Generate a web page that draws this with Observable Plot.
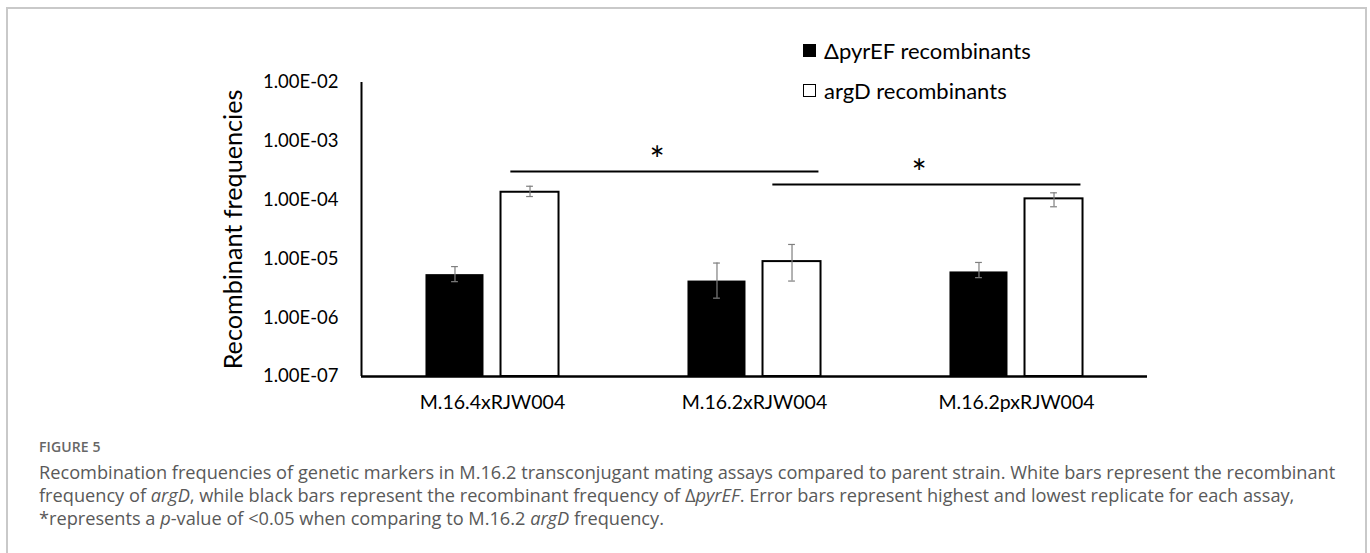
<!DOCTYPE html>
<html>
<head>
<meta charset="utf-8">
<script src="https://cdn.jsdelivr.net/npm/d3@7"></script>
<script src="https://cdn.jsdelivr.net/npm/@observablehq/plot@0.6"></script>
<style>
  html, body { margin: 0; padding: 0; background: #fff; }
  body { width: 1370px; height: 553px; position: relative; overflow: hidden; }
  #frame { position: absolute; left: 6px; top: 7px; width: 1361px; height: 600px; border: 2px solid #c9c9c9; box-sizing: border-box; }
  #chart { position: absolute; left: 0; top: 0; }
  #legend { position: absolute; left: 803px; top: 0; font-family: Lato, "Open Sans", sans-serif; font-size: 22px; color: #000; }
  .leg { position: absolute; white-space: nowrap; display: flex; align-items: center; height: 26px; }
  .sw { display: inline-block; width: 13px; height: 13px; box-sizing: border-box; border: 1.5px solid #000; margin-right: 8px; }
  #caption { position: absolute; left: 39px; top: 435px; font-family: "Open Sans", sans-serif; color: #595959; }
  #figlabel { font-size: 14px; font-weight: 600; color: #666; letter-spacing: 0.1px; line-height: 24px; }
  #captext { font-size: 18.2px; line-height: 23px; white-space: nowrap; font-weight: 400; margin-top: 2px; }
</style>
</head>
<body>
<div id="frame"></div>
<div id="chart"></div>
<div id="legend"></div>
<div id="caption">
  <div id="figlabel">FIGURE 5</div>
  <div id="captext">Recombination frequencies of genetic markers in M.16.2 transconjugant mating assays compared to parent strain. White bars represent the recombinant<br>frequency of <i>argD</i>, while black bars represent the recombinant frequency of Δ<i>pyrEF</i>. Error bars represent highest and lowest replicate for each assay,<br>*represents a <i>p</i>-value of &lt;0.05 when comparing to M.16.2 <i>argD</i> frequency.</div>
</div>
<script>
// ---- data ----
const categories = ["M.16.4xRJW004", "M.16.2xRJW004", "M.16.2pxRJW004"];
const seriesNames = ["ΔpyrEF recombinants", "argD recombinants"];
const pyrEF     = [5.4e-6, 4.2e-6, 6.0e-6];
const pyrEFLow  = [4.1e-6, 2.15e-6, 4.8e-6];
const pyrEFHigh = [7.4e-6, 8.5e-6, 8.7e-6];
const argD      = [1.36e-4, 9.0e-6, 1.05e-4];
const argDLow   = [1.15e-4, 4.2e-6, 7.7e-5];
const argDHigh  = [1.72e-4, 1.76e-5, 1.33e-4];
const yTicks = [1e-2, 1e-3, 1e-4, 1e-5, 1e-6, 1e-7];
const sigFrom = ["M.16.4xRJW004", "M.16.2xRJW004"];
const sigTo   = ["M.16.2xRJW004", "M.16.2pxRJW004"];
const sigLevel = [3.06e-4, 1.84e-4];
const sigLabel = ["*", "*"];

// ---- layout helpers (in category units) ----
const barW = 0.2214, gap = 0.065, capHalf = 0.013;
const seriesOffset = [-(barW + gap) / 2, (barW + gap) / 2];
const fills = ["#000", "#fff"];

const table = [];
categories.forEach((c, i) => {
  [[pyrEF, pyrEFLow, pyrEFHigh], [argD, argDLow, argDHigh]].forEach(([v, lo, hi], s) => {
    const xc = i + seriesOffset[s];
    table.push({category: c, series: seriesNames[s], s, value: v[i], low: lo[i], high: hi[i],
      x1: xc - barW / 2, x2: xc + barW / 2, xc});
  });
});
const sig = sigFrom.map((f, k) => {
  const a = categories.indexOf(f), b = categories.indexOf(sigTo[k]);
  return {x1: a + 0.07, x2: b + 0.246, y: sigLevel[k], label: sigLabel[k], xm: (a + 0.07 + b + 0.246) / 2 - 0.03};
});

const fmt = d => {
  const e = Math.round(Math.log10(d));
  const m = d / Math.pow(10, e);
  return m.toFixed(2) + "E" + (e < 0 ? "-" : "+") + String(Math.abs(e)).padStart(2, "0");
};

const font = "Lato, 'Open Sans', sans-serif";
const plot = Plot.plot({
  width: 1370,
  height: 425,
  marginLeft: 361,
  marginRight: 223,
  marginTop: 82,
  marginBottom: 49,
  style: {fontFamily: font, color: "#000", background: "transparent"},
  x: {type: "linear", domain: [-0.5, categories.length - 0.5], axis: null},
  y: {type: "log", domain: [1e-7, 1e-2], axis: null},
  marks: [
    Plot.axisY({ticks: yTicks, tickFormat: fmt, tickSize: 0, tickPadding: 23, fontSize: 18.5, label: null}),
    Plot.axisX({ticks: d3.range(categories.length), tickFormat: i => categories[i], tickSize: 0, tickPadding: 19, fontSize: 19.5, label: null}),
    Plot.text(["Recombinant frequencies"], {frameAnchor: "left", textAnchor: "middle", rotate: -90, dx: -128, fontSize: 25.2, fill: "#000"}),
    Plot.rectY(table, {x1: "x1", x2: "x2", y1: 1e-7, y2: "value", fill: d => fills[d.s], stroke: "#000", strokeWidth: d => d.s === 1 ? 2 : 0}),
    Plot.ruleX(table, {x: "xc", y1: "low", y2: "high", stroke: "#7f7f7f", strokeWidth: 1.2}),
    Plot.ruleY(table, {y: "low", x1: d => d.xc - capHalf, x2: d => d.xc + capHalf, stroke: "#7f7f7f", strokeWidth: 1.2}),
    Plot.ruleY(table, {y: "high", x1: d => d.xc - capHalf, x2: d => d.xc + capHalf, stroke: "#7f7f7f", strokeWidth: 1.2}),
    Plot.ruleX([-0.5], {y1: 1e-7, y2: 1e-2, stroke: "#000", strokeWidth: 2}),
    Plot.ruleY([1e-7], {stroke: "#000", strokeWidth: 2.5}),
    Plot.ruleY(sig, {y: "y", x1: "x1", x2: "x2", stroke: "#000", strokeWidth: 2}),
    Plot.text(sig, {x: "xm", y: "y", text: "label", dy: -10, fontSize: 36, fill: "#000", lineAnchor: "middle"})
  ]
});
document.getElementById("chart").appendChild(plot);

// legend
const legend = document.getElementById("legend");
const legTops = [37, 77];
seriesNames.forEach((name, s) => {
  const row = document.createElement("div");
  row.className = "leg";
  row.style.top = legTops[s] + "px";
  const sw = document.createElement("span");
  sw.className = "sw";
  sw.style.background = fills[s];
  row.appendChild(sw);
  row.appendChild(document.createTextNode(name));
  legend.appendChild(row);
});
</script>
</body>
</html>
